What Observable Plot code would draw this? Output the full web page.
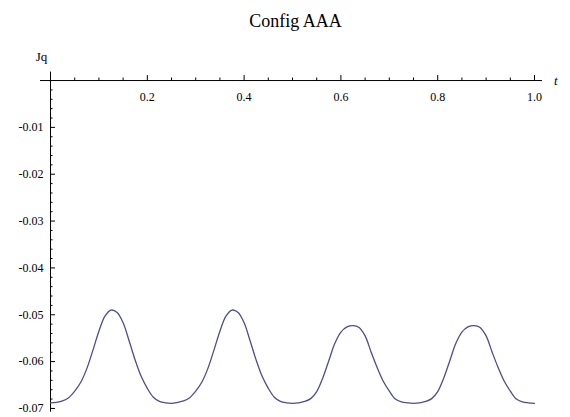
<!DOCTYPE html>
<html>
<head>
<meta charset="utf-8">
<script src="https://cdn.jsdelivr.net/npm/d3@7"></script>
<script src="https://cdn.jsdelivr.net/npm/@observablehq/plot@0.6"></script>
<style>
  html, body { margin: 0; padding: 0; background: #fff; }
  #chart svg { display: block; }
  #chart svg text { font-family: "Liberation Serif", "DejaVu Serif", serif; }
</style>
</head>
<body>
<div id="chart"></div>
<script>
const title = "Config AAA";
const xLabel = "t";
const yLabel = "Jq";

const tValues = [
  0, 0.0125, 0.025, 0.0375, 0.05, 0.0625, 0.075, 0.0875, 0.1, 0.1125,
  0.125, 0.1375, 0.15, 0.1625, 0.175, 0.1875, 0.2, 0.2125, 0.225, 0.2375,
  0.25, 0.2625, 0.275, 0.2875, 0.3, 0.3125, 0.325, 0.3375, 0.35, 0.3625,
  0.375, 0.3875, 0.4, 0.4125, 0.425, 0.4375, 0.45, 0.4625, 0.475, 0.4875,
  0.5, 0.5125, 0.525, 0.5375, 0.55, 0.5625, 0.575, 0.5875, 0.6, 0.6125,
  0.625, 0.6375, 0.65, 0.6625, 0.675, 0.6875, 0.7, 0.7125, 0.725, 0.7375,
  0.75, 0.7625, 0.775, 0.7875, 0.8, 0.8125, 0.825, 0.8375, 0.85, 0.8625,
  0.875, 0.8875, 0.9, 0.9125, 0.925, 0.9375, 0.95, 0.9625, 0.975, 0.9875,
  1.0
];
const jqValues = [
  -0.0688, -0.0687, -0.0684, -0.0677, -0.0663, -0.0644, -0.0615, -0.0576, -0.0535, -0.0503,
  -0.0490, -0.0495, -0.0517, -0.0556, -0.0597, -0.0632, -0.0657, -0.0676, -0.0685, -0.0688,
  -0.0689, -0.0687, -0.0684, -0.0677, -0.0663, -0.0644, -0.0615, -0.0576, -0.0535, -0.0503,
  -0.0490, -0.0495, -0.0517, -0.0556, -0.0597, -0.0632, -0.0657, -0.0676, -0.0685, -0.0688,
  -0.0689, -0.0688, -0.0685, -0.0679, -0.0664, -0.0635, -0.0598, -0.0561, -0.0537, -0.0526,
  -0.0523, -0.0527, -0.0545, -0.0580, -0.0613, -0.0642, -0.0663, -0.0680, -0.0686, -0.0688,
  -0.0689, -0.0688, -0.0685, -0.0679, -0.0664, -0.0635, -0.0598, -0.0561, -0.0537, -0.0526,
  -0.0523, -0.0527, -0.0545, -0.0580, -0.0613, -0.0642, -0.0663, -0.0680, -0.0686, -0.0688,
  -0.0689
];

const xMajor = [0.2, 0.4, 0.6, 0.8, 1.0];
const xMajorLabels = ["0.2", "0.4", "0.6", "0.8", "1.0"];
const xMinor = [0.05, 0.1, 0.15, 0.25, 0.3, 0.35, 0.45, 0.5, 0.55, 0.65, 0.7, 0.75, 0.85, 0.9, 0.95];
const yMajor = [-0.01, -0.02, -0.03, -0.04, -0.05, -0.06, -0.07];
const yMajorLabels = ["-0.01", "-0.02", "-0.03", "-0.04", "-0.05", "-0.06", "-0.07"];
const yMinor = [];
for (let k = 1; k <= 35; k++) { if (k % 5 !== 0) yMinor.push(-k * 0.002); }

const data = tValues.map((t, i) => ({t, v: jqValues[i]}));
const xTicks = xMajor.map((x, i) => ({x, label: xMajorLabels[i]}));
const yTicks = yMajor.map((y, i) => ({y, label: yMajorLabels[i]}));

const font = "Liberation Serif";

const chart = Plot.plot({
  width: 570,
  height: 417,
  marginLeft: 40,
  marginRight: 28,
  marginTop: 71.6,
  marginBottom: 5.3,
  style: {background: "#fff", overflow: "visible"},
  x: {domain: [-0.0207, 1.0165], axis: null},
  y: {domain: [-0.0708, 0.0018], axis: null},
  marks: [
    Plot.ruleY([0], {stroke: "#000", strokeWidth: 1}),
    Plot.ruleX([0], {stroke: "#000", strokeWidth: 1}),
    Plot.ruleX(xMajor, {x: d => d, y1: 0, y2: 0, insetBottom: 5, stroke: "#000"}),
    Plot.ruleX(xMinor, {x: d => d, y1: 0, y2: 0, insetBottom: 2.5, stroke: "#000"}),
    Plot.ruleY(yMajor, {y: d => d, x1: 0, x2: 0, insetRight: -5, stroke: "#000"}),
    Plot.ruleY(yMinor, {y: d => d, x1: 0, x2: 0, insetRight: -2.5, stroke: "#000"}),
    Plot.text(xTicks, {x: "x", y: 0, text: "label", dy: 17, fontSize: 12, fontFamily: font, fill: "#000"}),
    Plot.text(yTicks, {x: 0, y: "y", text: "label", dx: -7, textAnchor: "end", fontSize: 12, fontFamily: font, fill: "#000"}),
    Plot.line(data, {x: "t", y: "v", stroke: "#4d4d8f", strokeWidth: 1.3, curve: "catmull-rom"}),
    Plot.text([yLabel], {x: 0, frameAnchor: "top", dy: -20, dx: -9, fontSize: 13, fontFamily: font, fill: "#000"}),
    Plot.text([xLabel], {y: 0, frameAnchor: "right", dx: 15, fontSize: 13, fontStyle: "italic", fontFamily: font, fill: "#000"}),
    Plot.text([title], {frameAnchor: "top", dx: 4, dy: -58, fontSize: 18, fontFamily: font, fill: "#000"})
  ]
});
document.getElementById("chart").appendChild(chart);
</script>
</body>
</html>
